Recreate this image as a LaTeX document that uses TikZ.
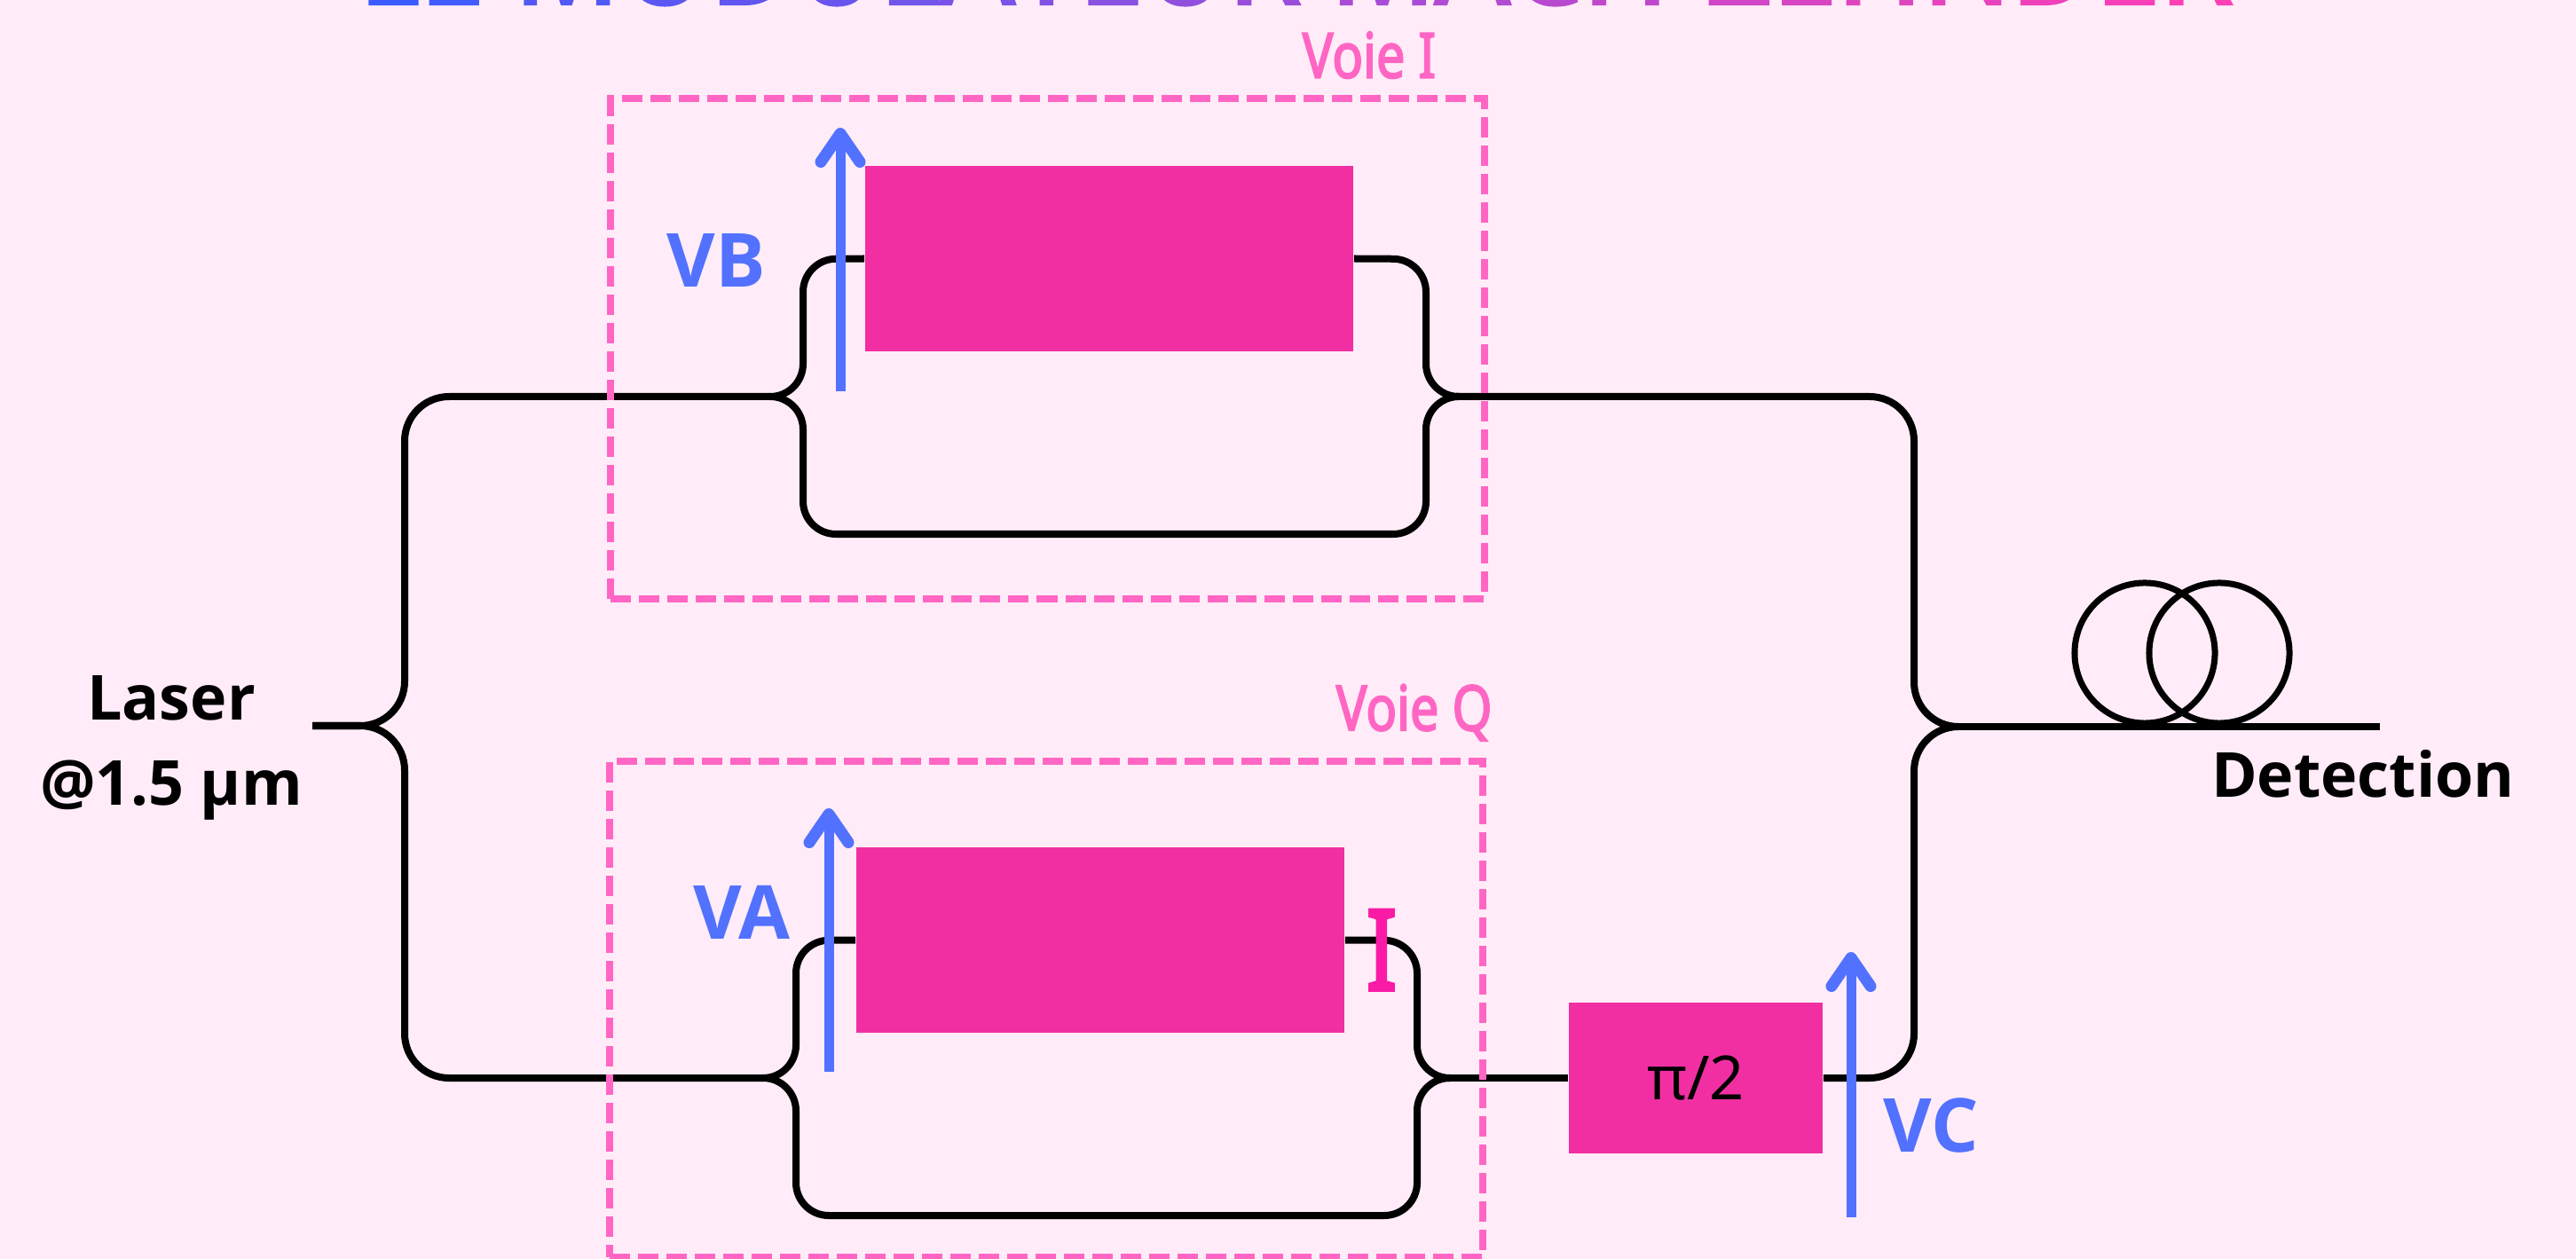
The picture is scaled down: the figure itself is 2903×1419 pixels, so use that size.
\documentclass[tikz,border=0pt]{standalone}
\usepackage{fontspec}
\setmainfont{Noto Sans}[AutoFakeBold=3]
\newfontfamily\labelfont{Open Sans}
\usetikzlibrary{positioning, arrows.meta}

\definecolor{pagepink}{HTML}{FFECF8}
\definecolor{framepink}{HTML}{FF66C4}
\definecolor{blockpink}{HTML}{F12FA3}
\definecolor{markpink}{HTML}{F91BA6}
\definecolor{voltblue}{HTML}{5271FF}
\definecolor{titleblue}{HTML}{3A5CFF}
\definecolor{titlepink}{HTML}{FF3FB4}

\newcommand{\narrowtext}[1]{\scalebox{0.82}[1]{#1}}

\begin{document}
\begin{tikzpicture}[
        x=0.01cm,
        y=-0.01cm,
        wire/.style={draw=black, line width=0.08cm},
        busline/.style={wire, rounded corners=0.5cm},
        armline/.style={wire, rounded corners=0.37cm},
        modulator/.style={
            rectangle,
            fill=blockpink,
            inner sep=0pt,
            minimum width=5.5cm,
            minimum height=2.09cm
        },
        channel/.style={
            rectangle,
            draw=framepink,
            line width=0.08cm,
            dash pattern=on 0.23cm off 0.09cm,
            inner sep=0pt,
            minimum width=9.84cm
        },
        coil/.style={
            circle,
            draw=black,
            line width=0.07cm,
            inner sep=0pt,
            minimum size=1.58cm
        },
        voltage/.style={
            draw=voltblue,
            line width=0.11cm,
            -{Straight Barb[round, length=0.32cm, width=0.44cm, line width=0.13cm]}
        },
        voltlabel/.style={
            text=voltblue,
            inner sep=0pt,
            font=\labelfont\fontsize{23.9pt}{28pt}\selectfont\bfseries
        },
        mainlabel/.style={
            inner sep=0pt,
            align=center,
            font=\labelfont\fontsize{19.9pt}{27.3pt}\selectfont\bfseries
        },
        channellabel/.style={
            text=framepink,
            inner sep=0pt,
            font=\fontsize{20pt}{25pt}\selectfont\bfseries
        }
    ]
        % Page
        \fill [pagepink] (0,0) rectangle (2903,1419);
        \useasboundingbox (0,0) rectangle (2903,1419);

        % Title, cut by the top edge
        \node [anchor=south, inner sep=0pt] (title) at (1460,6) {\resizebox{21.09cm}{1.1cm}{\bfseries%
            \foreach \ch [count=\i] in {L,E,~,M,O,D,U,L,A,T,E,U,R,~,M,A,C,H,-,Z,E,H,N,D,E,R}{%
                \pgfmathtruncatemacro{\mixval}{100-(\i-1)*4}%
                \textcolor{titleblue!\mixval!titlepink}{\ch}%
            }}};

        % Blocks
        \node [modulator] (mzI) at (1250,291.5) {};
        \node [modulator] (mzQ) at (1240,1059.5) {};
        \node [modulator, minimum width=2.86cm, minimum height=1.7cm, font=\fontsize{19.5pt}{24pt}\selectfont] (phase) at (1911,1215) {\raisebox{-0.03cm}{π/2}};

        % Named points of the waveguides
        \coordinate (laserin) at (352,818);
        \coordinate (busI) at (456,447);
        \coordinate (busQ) at (456,1215);
        \coordinate (splitI) at (868,447);
        \coordinate (splitQ) at (860,1215);
        \coordinate (mergeI) at (1641,447);
        \coordinate (mergeQ) at (1631,1215);
        \coordinate (armInw) at (905,292);
        \coordinate (armIne) at (1607,292);
        \coordinate (armIsw) at (905,602);
        \coordinate (armIse) at (1607,602);
        \coordinate (armQnw) at (897,1060);
        \coordinate (armQne) at (1597,1060);
        \coordinate (armQsw) at (897,1370);
        \coordinate (armQse) at (1597,1370);
        \coordinate (busRI) at (2157,447);
        \coordinate (busRQ) at (2157,1215);
        \coordinate (combine) at (2207,819);
        \coordinate (fiberout) at (2682,819);

        % Paths
        \path [busline] (laserin) -| (busI) -- (splitI);
        \path [busline] (laserin) -| (busQ) -- (splitQ);

        \path [armline] (splitI) -| (armInw) -- (mzI.west);
        \path [armline] (mzI.east) -- (armIne) |- (mergeI);
        \path [armline] (splitI) -| (armIsw) -- (armIse) |- (mergeI);

        \path [armline] (splitQ) -| (armQnw) -- (mzQ.west);
        \path [armline] (mzQ.east) -- (armQne) |- (mergeQ);
        \path [armline] (splitQ) -| (armQsw) -- (armQse) |- (mergeQ);

        \path [wire] (mergeQ) -- (phase.west);
        \path [busline] (mergeI) -- (busRI) |- (combine);
        \path [busline] (combine) -| (busRQ) -- (phase.east);
        \path [wire] (combine) -- (fiberout);

        % Fibre coil
        \node [coil] (coilA) at (2417,736) {};
        \node [coil] (coilB) at (2501,736) {};

        % Channel frames
        \node [channel, minimum height=5.635cm] (voieI) at (1180.5,393) {};
        \node [channel, minimum height=5.59cm] (voieQ) at (1179,1137.5) {};
        \node [channellabel, above left=0.18cm and 0.58cm of voieI.north east] (labelI) {\narrowtext{Voie I}};
        \node [channellabel, above left=0.18cm and -0.07cm of voieQ.north east] (labelQ) {\narrowtext{Voie Q}};

        % Voltages
        \coordinate (vbfoot) at (947,441);
        \coordinate (vbtip) at (947,144);
        \coordinate (vafoot) at (934,1208);
        \coordinate (vatip) at (934,911);
        \coordinate (vcfoot) at (2086,1372);
        \coordinate (vctip) at (2086,1073);
        \draw [voltage] (vbfoot) -- (vbtip);
        \draw [voltage] (vafoot) -- (vatip);
        \draw [voltage] (vcfoot) -- (vctip);
        \node [voltlabel, anchor=base] (vb) at (807,324) {VB};
        \node [voltlabel, anchor=base] (va) at (836,1058) {VA};
        \node [voltlabel, anchor=base] (vc) at (2176,1298) {VC};

        % Text
        \node [mainlabel] (laser) at (193,843) {Laser\\@1.5 µm};
        \node [mainlabel, anchor=base] (detection) at (2663,898) {Detection};
        \node [inner sep=0pt, anchor=base, text=markpink, font=\fontsize{36pt}{40pt}\selectfont\bfseries] (marker) at (1557,1116) {\narrowtext{I}};
    \end{tikzpicture}
\end{document}
